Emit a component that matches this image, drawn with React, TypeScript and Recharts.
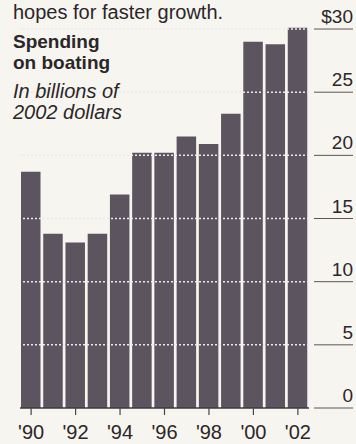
import React from 'react';
import { BarChart, Bar, XAxis, YAxis, ReferenceLine } from 'recharts';

const years = [1990, 1991, 1992, 1993, 1994, 1995, 1996, 1997, 1998, 1999, 2000, 2001, 2002];
const spending = [18.7, 13.8, 13.1, 13.8, 16.9, 20.2, 20.2, 21.5, 20.9, 23.3, 29.0, 28.8, 30.1];
const yTicks = [0, 5, 10, 15, 20, 25, 30];

const headline = 'hopes for faster growth.';
const titleLines = ['Spending', 'on boating'];
const subtitleLines = ['In billions of', '2002 dollars'];

const data = years.map((y, i) => ({ year: "'" + String(y).slice(2), value: spending[i] }));

const INK = '#2b2628';
const BAR = '#5c545e';
const FONT = '"Liberation Sans", Arial, Helvetica, sans-serif';

const YTick = (props: any) => {
  const { x, y, payload } = props;
  const v = payload.value;
  const label = v === 30 ? '$30' : String(v);
  return (
    <g>
      <line x1={x + 5} x2={x + 44} y1={y} y2={y} stroke="#5a5458" strokeWidth={1} />
      <text x={x + 44} y={y - 6} textAnchor="end" fontSize={19} fontFamily={FONT} fill={INK}>
        {label}
      </text>
    </g>
  );
};

export default function App() {
  return (
    <div style={{ position: 'absolute', left: 0, top: 0, width: 356, height: 444, background: '#f7f5f0', overflow: 'hidden' }}>
      <BarChart
        width={356}
        height={444}
        data={data}
        margin={{ top: 26.5, right: 0, bottom: 0, left: 20 }}
      >
        <XAxis
          dataKey="year"
          interval={1}
          height={36}
          tickSize={7}
          tickMargin={10}
          axisLine={{ stroke: '#3e383c', strokeWidth: 1.5 }}
          tickLine={{ stroke: '#4a4448', strokeWidth: 1.2 }}
          tick={{ fontSize: 20, fontFamily: FONT, fill: INK }}
        />
        <YAxis
          orientation="right"
          width={47}
          domain={[0, 30.2]}
          ticks={yTicks}
          axisLine={false}
          tickLine={false}
          tickSize={0}
          tickMargin={0}
          tick={<YTick />}
          interval={0}
        />
        <Bar dataKey="value" fill={BAR} barSize={19.5} isAnimationActive={false} />
        {yTicks.filter((t) => t > 0).map((t) => (
          <ReferenceLine key={t} y={t} stroke="#ece8f2" strokeWidth={1.5} strokeDasharray="2 2" />
        ))}
      </BarChart>
      <svg width={356} height={444} style={{ position: 'absolute', left: 0, top: 0, pointerEvents: 'none' }}>
        <text x={13} y={19} fontSize={20} fontFamily={FONT} fill={INK}>{headline}</text>
        <text fontFamily={FONT} fontWeight="bold" fontSize={19} fill={INK}>
          <tspan x={13} y={48}>{titleLines[0]}</tspan>
          <tspan x={13} y={69}>{titleLines[1]}</tspan>
        </text>
        <text fontFamily={FONT} fontStyle="italic" fontSize={20} fill={INK}>
          <tspan x={13} y={98}>{subtitleLines[0]}</tspan>
          <tspan x={13} y={119}>{subtitleLines[1]}</tspan>
        </text>
      </svg>
    </div>
  );
}
